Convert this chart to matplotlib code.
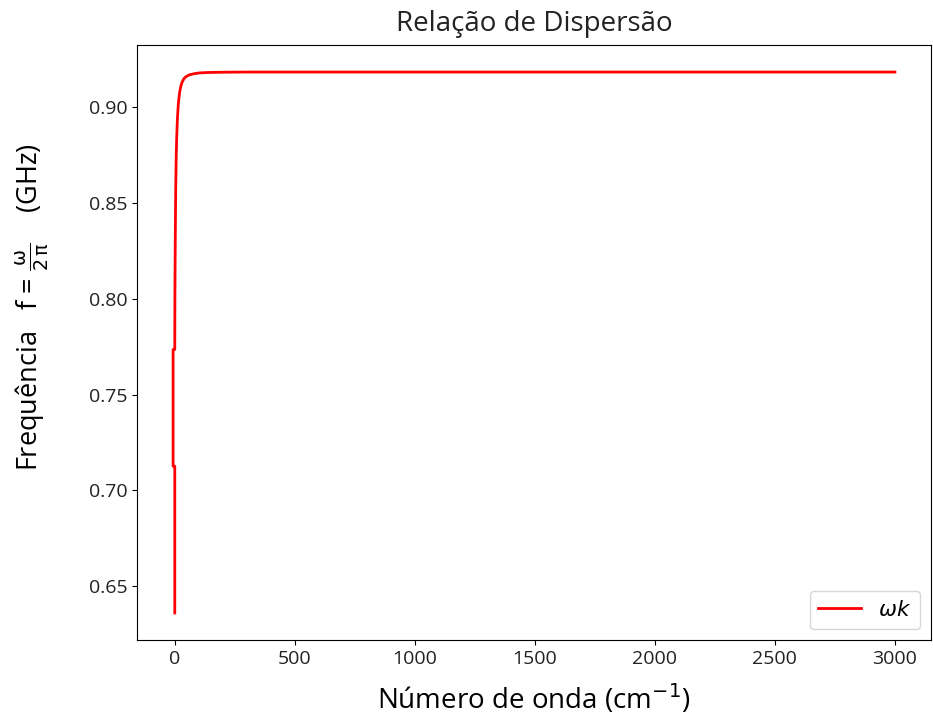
import matplotlib
matplotlib.use("Agg")
import matplotlib.pyplot as plt

plt.rcParams['font.family'] = ['Open Sans', 'DejaVu Sans']
plt.rcParams['mathtext.fontset'] = 'dejavusans'

# wave number (cm^-1) and frequency (GHz)
k_values = [0, 0, -7, -7, 0, 0.5, 2, 4, 6, 8, 11, 15, 20, 25, 30, 38, 46,
            60, 79, 100, 125, 150, 200, 300, 500, 1000, 2000, 3000]
f_values = [0.636, 0.7126, 0.7126, 0.7735, 0.7735, 0.80, 0.83, 0.858, 0.874,
            0.884, 0.894, 0.902, 0.9075, 0.9108, 0.9128, 0.9148, 0.9158,
            0.9168, 0.9174, 0.9178, 0.918, 0.9181, 0.9182, 0.9183, 0.9183,
            0.9183, 0.9183, 0.9183]
series_label = r'$\omega k$'

fig = plt.figure(figsize=(9.33, 7.19), dpi=100)
ax = fig.add_axes([137/933, 1 - 640/719, (931 - 137)/933, (640 - 45)/719])
ax.plot(k_values, f_values, color='red', lw=2, label=series_label)

ax.set_xticks([0, 500, 1000, 1500, 2000, 2500, 3000])
ax.set_yticks([0.65, 0.70, 0.75, 0.80, 0.85, 0.90])
ax.tick_params(labelsize=14, labelcolor='#222222')
ax.set_title('Relação de Dispersão', fontsize=20, color='#222222', pad=10)
ax.set_xlabel(r'Número de onda (cm$^{-1}$)', fontsize=20, labelpad=10)
ax.set_ylabel(r'Frequência   f = $\frac{\mathrm{\omega}}{\mathrm{2\,\pi}}$    (GHz)',
              fontsize=19.5)
ax.yaxis.set_label_coords(-0.108, 0.56)
ax.legend(loc='lower right', fontsize=15.5, handlelength=2)

fig.savefig('out.png', dpi=100)
